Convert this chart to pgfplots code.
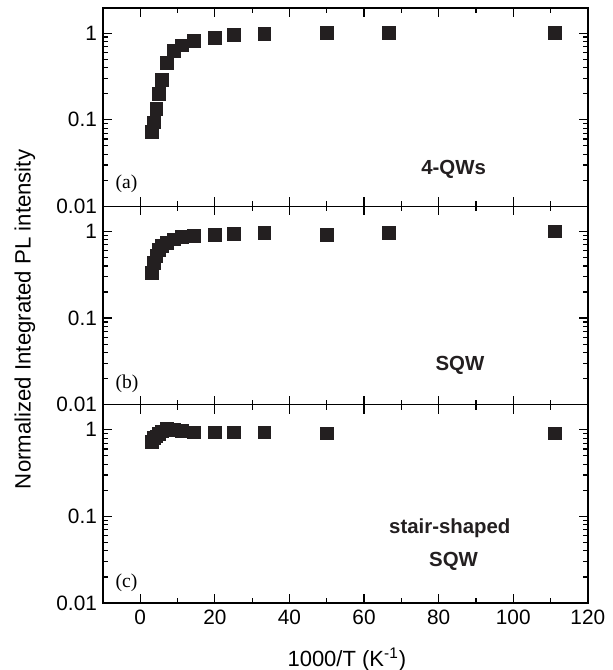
\documentclass[border=0pt]{standalone}
\usepackage{fontspec}
\setmainfont{Liberation Sans}
\newfontfamily\seriffont{Liberation Serif}
\usepackage{pgfplots}
\pgfplotsset{compat=1.18}
\definecolor{markblk}{RGB}{35,31,32}

\pgfplotsset{
  qwpanel/.style={
    scale only axis, width=242.5pt, height=99.2pt,
    ymin=0.01, ymax=1.95,
    xmin=-10, xmax=120,
    xtick={0,20,...,120}, minor xtick={-10,10,30,...,110},
    ytick={0.01,0.1,1}, yticklabels={0.01,0.1,1},
    major tick length=4.5pt, minor tick length=2.5pt,
    tick style={line width=0.6pt, black},
    axis line style={line width=0.75pt},
    tick label style={font=\fontsize{10.4}{12}\selectfont},
    yticklabel style={xshift=0.5pt},
    clip=false,
  },
}
\tikzset{
  pts/.style={only marks, mark=square*, mark size=3.2pt, color=markblk},
  tag/.style={font=\fontsize{10.2}{12}\selectfont\bfseries, color=markblk},
  plab/.style={font=\seriffont\fontsize{9.8}{12}\selectfont, anchor=west},
}

\begin{document}
\begin{tikzpicture}
% (c) stair-shaped SQW
\begin{semilogyaxis}[qwpanel, at={(0,0)}, anchor=south west,
  xticklabel={\pgfmathprintnumber[assume math mode=true]{\tick}},
  xlabel={1000/T (K\textsuperscript{-1})},
  xlabel style={font=\fontsize{11}{12}\selectfont, at={(axis description cs:0.503,-0.285)}, anchor=center}]
\addplot[pts] coordinates {
  (3.1,0.73) (3.7,0.80) (4.3,0.84) (5.0,0.90) (5.9,0.96) (7.1,1.04)
  (9.1,1.0) (11.1,0.97) (14.3,0.935) (20,0.935) (25,0.935) (33.3,0.935)
  (50,0.91) (111.1,0.91)};
\node[tag] at (axis cs:83,0.074) {stair-shaped};
\node[tag] at (axis cs:84,0.0304) {SQW};
\node[plab] at (axis cs:-8.5,0.0172) {(c)};
\end{semilogyaxis}
% (b) SQW
\begin{semilogyaxis}[qwpanel, at={(0,99.2pt)}, anchor=south west, xticklabels=\empty,
  ylabel={Normalized Integrated PL intensity},
  ylabel style={font=\fontsize{11.1}{12}\selectfont, at={(axis description cs:-0.161,0.43)}, anchor=center}]
\addplot[pts] coordinates {
  (3.1,0.333) (3.7,0.436) (4.3,0.52) (5.0,0.61) (5.9,0.68) (7.1,0.745)
  (9.1,0.81) (11.1,0.865) (14.3,0.89) (20,0.905) (25,0.93) (33.3,0.97)
  (50,0.92) (66.7,0.97) (111.1,1.0)};
\node[tag] at (axis cs:85.7,0.0286) {SQW};
\node[plab] at (axis cs:-8.5,0.0175) {(b)};
\end{semilogyaxis}
% (a) 4-QWs
\begin{semilogyaxis}[qwpanel, at={(0,198.4pt)}, anchor=south west, xticklabels=\empty]
\addplot[pts] coordinates {
  (3.1,0.072) (3.7,0.093) (4.3,0.132) (5.0,0.198) (5.9,0.287) (7.1,0.451)
  (9.1,0.62) (11.1,0.72) (14.3,0.817) (20,0.885) (25,0.95) (33.3,0.975)
  (50,1.0) (66.7,1.0) (111.1,1.0)};
\node[tag] at (axis cs:84,0.0268) {4-QWs};
\node[plab] at (axis cs:-8.5,0.018) {(a)};
\end{semilogyaxis}
\pgfresetboundingbox
\path[use as bounding box] (-51.5pt,-33.5pt) rectangle (255pt,301.6pt);
\end{tikzpicture}
\end{document}
